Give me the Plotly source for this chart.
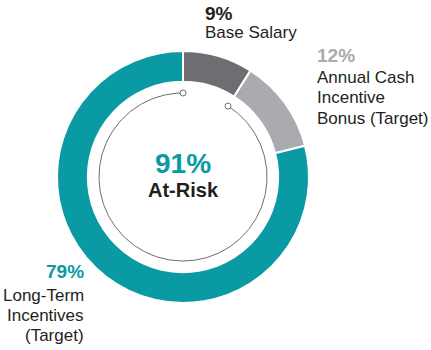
import numpy as np
import plotly.graph_objects as go

# Pay mix data
categories = ["Base Salary", "Annual Cash Incentive Bonus (Target)", "Long-Term Incentives (Target)"]
shares = [9, 12, 79]
colors = ["#6d6e71", "#a9abae", "#0a9aa4"]
at_risk_share = shares[1] + shares[2]

W, H = 431, 350
cx, cy = 183, 173          # donut centre (pixels, y from bottom)
r_outer = 126
r_arc = 84

fig = go.Figure()

fig.add_trace(go.Pie(
    values=shares,
    labels=categories,
    sort=False,
    direction="clockwise",
    rotation=0,
    hole=0.755,
    marker=dict(colors=colors, line=dict(color="white", width=2)),
    textinfo="none",
    hoverinfo="label+percent",
    showlegend=False,
    domain=dict(x=[(cx - r_outer) / W, (cx + r_outer) / W],
                y=[(cy - r_outer) / H, (cy + r_outer) / H]),
))

# Inner arc spanning the at-risk portion (from end of base salary back to the top)
start_deg = 360 * shares[0] / sum(shares)
end_deg = start_deg + 360 * at_risk_share / sum(shares)
theta = np.radians(np.linspace(start_deg, end_deg, 300))
ax_x = cx + r_arc * np.sin(theta)
ax_y = cy + r_arc * np.cos(theta)
fig.add_trace(go.Scatter(
    x=ax_x, y=ax_y, mode="lines",
    line=dict(color="#6d6e71", width=1),
    hoverinfo="skip", showlegend=False,
))
fig.add_trace(go.Scatter(
    x=[ax_x[0], ax_x[-1]], y=[ax_y[0], ax_y[-1]], mode="markers",
    marker=dict(size=6, color="white", line=dict(color="#6d6e71", width=1)),
    hoverinfo="skip", showlegend=False,
))

font = "Liberation Sans, Arial, Helvetica, sans-serif"
dark = "#231f20"


def label(text, x, y_top, size, color, bold=False, anchor="left"):
    fig.add_annotation(
        x=x, y=H - y_top, xref="x", yref="y",
        text=f"<b>{text}</b>" if bold else text,
        showarrow=False, xanchor=anchor, yanchor="middle",
        font=dict(family=font, size=size, color=color),
    )


pct = [f"{s}%" for s in shares]

# Base salary
label(pct[0], 203, 13, 19, dark, bold=True)
label("Base Salary", 203, 32, 17, dark)
# Annual bonus
label(pct[1], 315, 55, 19, colors[1], bold=True)
for i, line in enumerate(["Annual Cash", "Incentive", "Bonus (Target)"]):
    label(line, 315, 77 + 20.5 * i, 17, dark)
# Long-term incentives
label(pct[2], 86, 271, 19, colors[2], bold=True, anchor="right")
for i, line in enumerate(["Long-Term", "Incentives", "(Target)"]):
    label(line, 86, 295 + 20 * i, 17, dark, anchor="right")
# Centre
label(f"{at_risk_share}%", cx, 163, 28, colors[2], bold=True, anchor="center")
label("At-Risk", cx, 190, 20, dark, bold=True, anchor="center")

fig.update_layout(
    width=W, height=H,
    margin=dict(l=0, r=0, t=0, b=0),
    paper_bgcolor="white", plot_bgcolor="rgba(0,0,0,0)",
    xaxis=dict(range=[0, W], visible=False, fixedrange=True),
    yaxis=dict(range=[0, H], visible=False, fixedrange=True),
)

fig.write_html("out.html")
